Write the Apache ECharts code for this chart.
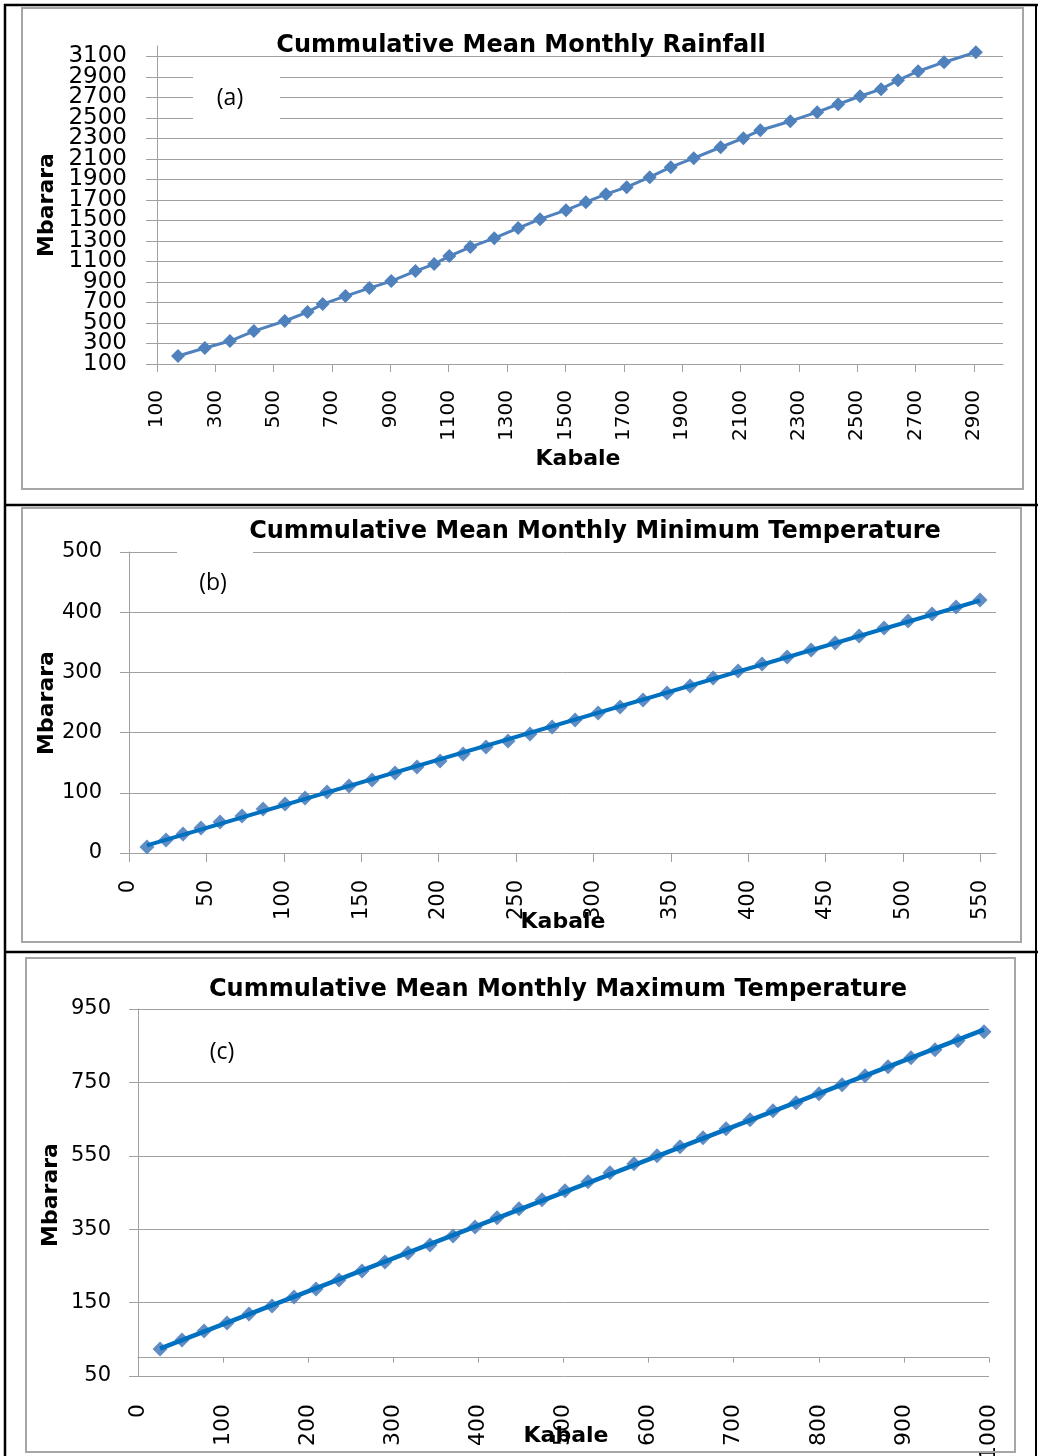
<!DOCTYPE html>
<html><head><meta charset="utf-8">
<script src="https://cdn.jsdelivr.net/npm/echarts@6/dist/echarts.min.js"></script>
<style>html,body{margin:0;padding:0;background:#fff}#c{width:1038px;height:1456px}</style>
</head><body><div id="c"></div>
<script>
// ---- (a) Cumulative mean monthly rainfall ----
const rainKabale  = [172,264,350,432,538,616,668,746,828,903,986,1050,1102,1174,1256,1338,1413,1502,1570,1639,1710,1789,1861,1940,2032,2110,2168,2271,2363,2435,2510,2582,2640,2709,2798,2907];
const rainMbarara = [178,256,324,421,519,606,684,762,840,908,1006,1074,1152,1240,1327,1425,1512,1600,1678,1756,1824,1921,2019,2106,2213,2301,2379,2467,2555,2632,2710,2779,2866,2954,3042,3139];
const rainXTicks = [100,300,500,700,900,1100,1300,1500,1700,1900,2100,2300,2500,2700,2900];
const rainYTicks = [100,300,500,700,900,1100,1300,1500,1700,1900,2100,2300,2500,2700,2900,3100];

// ---- (b) Cumulative mean monthly minimum temperature ----
const minKabale  = [11.6,23.9,34.9,46.5,58.8,73.0,86.6,100.8,113.7,127.9,142.1,157.0,171.8,186.0,200.9,215.8,230.6,244.8,259.0,273.3,288.1,303.0,317.2,332.0,347.5,362.4,377.3,393.4,408.9,425.1,440.6,456.1,471.6,487.7,503.2,518.7,534.2,549.7];
const minMbarara = [10.0,21.6,31.6,41.5,51.5,61.5,73.1,81.4,91.4,101.3,111.3,121.3,132.9,142.9,152.8,164.5,176.1,186.0,197.7,209.3,220.9,232.6,242.5,254.2,265.8,277.4,290.7,302.3,314.0,325.6,337.2,348.8,360.5,373.8,385.4,397.0,408.6,420.3];
const minXTicks = [0,50,100,150,200,250,300,350,400,450,500,550];
const minYTicks = [0,100,200,300,400,500];

// ---- (c) Cumulative mean monthly maximum temperature ----
const maxKabale  = [25.9,51.7,77.6,104.6,130.4,157.5,183.3,209.2,236.2,263.2,290.2,317.3,343.1,370.2,396.0,421.9,447.7,474.7,501.8,528.8,554.6,582.8,609.9,636.9,663.9,691.0,719.2,746.2,773.2,800.2,827.3,854.3,881.3,908.3,936.5,963.6,994.1];
const maxMbarara = [23.6,48.2,72.7,94.5,119.1,140.9,165.4,187.2,211.8,236.3,260.9,285.4,307.2,331.8,356.3,380.9,405.4,430.0,454.5,479.1,503.6,528.2,550.0,574.5,599.1,623.6,648.2,672.7,694.5,719.0,743.6,768.1,792.7,817.2,839.0,863.6,888.1];
const maxXTicks = [0,100,200,300,400,500,600,700,800,900,1000];
const maxYTicks = [-50,150,350,550,750,950];

const titles = ['Cummulative Mean Monthly Rainfall','Cummulative Mean Monthly Minimum Temperature','Cummulative Mean Monthly Maximum Temperature'];
const panelTags = ['(a)','(b)','(c)'];
const xName = 'Kabale', yName = 'Mbarara';

function pairs(xs, ys) { return xs.map((x, i) => [x, ys[i]]); }
function trend(xs, ys) {
  const n = xs.length;
  const mx = xs.reduce((a, b) => a + b, 0) / n, my = ys.reduce((a, b) => a + b, 0) / n;
  let sxy = 0, sxx = 0;
  for (let i = 0; i < n; i++) { sxy += (xs[i] - mx) * (ys[i] - my); sxx += (xs[i] - mx) ** 2; }
  const b = sxy / sxx, a = my - b * mx;
  const x0 = Math.min(...xs), x1 = Math.max(...xs);
  return [[x0, a + b * x0], [x1, a + b * x1]];
}

const NUM = 'DejaVu Sans';
const HEAD = '"Comic Sans MS","DejaVu Sans",sans-serif';
const GC = '#a0a0a0';
const plain = v => String(Math.abs(v));

function xAx(gi, min, max, ticks, fs, margin, tickLen) {
  return { gridIndex: gi, type: 'value', min: min, max: max,
    axisLine: { show: true, onZero: true, lineStyle: { color: GC, width: 1 } },
    axisTick: { show: true, inside: false, length: tickLen, customValues: ticks, lineStyle: { color: GC } },
    axisLabel: { customValues: ticks, rotate: 90, fontSize: fs, fontFamily: NUM, color: '#000', margin: margin,
      formatter: plain, hideOverlap: false, showMinLabel: true, showMaxLabel: true },
    splitLine: { show: false } };
}
function yAx(gi, min, max, ticks, labels, fs, margin, tickLen) {
  return { gridIndex: gi, type: 'value', min: min, max: max,
    axisLine: { show: true, lineStyle: { color: GC, width: 1 } },
    axisTick: { show: true, inside: false, length: tickLen, customValues: ticks, lineStyle: { color: GC } },
    axisLabel: { customValues: labels, fontSize: fs, fontFamily: NUM, color: '#000', margin: margin,
      formatter: plain, hideOverlap: false, showMinLabel: true, showMaxLabel: true },
    splitLine: { show: true, lineStyle: { color: GC, width: 1 } } };
}
// label-only companion axis (same scale) so densely packed labels are all kept
function yLabelsOnly(gi, min, max, labels, fs, margin) {
  return { gridIndex: gi, type: 'value', min: min, max: max, position: 'left', offset: 0,
    axisLine: { show: false }, axisTick: { show: false }, splitLine: { show: false },
    axisLabel: { customValues: labels, fontSize: fs, fontFamily: NUM, color: '#000', margin: margin,
      formatter: plain, hideOverlap: false, showMinLabel: true, showMaxLabel: true } };
}

function txt(x, y, text, size, opts) {
  return Object.assign({ type: 'text', x: x, y: y, z: 120,
    style: { text: text, fontSize: size, fontWeight: 'bold', fontFamily: HEAD, fill: '#000', align: 'center', verticalAlign: 'middle' } }, opts || {});
}
function line(x1, y1, x2, y2, w, c) {
  return { type: 'line', z: 110, shape: { x1: x1, y1: y1, x2: x2, y2: y2 }, style: { stroke: c, lineWidth: w } };
}
function frame(x, y, w, h) {
  return { type: 'rect', z: 105, shape: { x: x, y: y, width: w, height: h }, style: { fill: null, stroke: '#a6a6a6', lineWidth: 2 } };
}
function tagBox(x, y, w, h, cx, cy, t) {
  return [
    { type: 'rect', z: 115, shape: { x: x, y: y, width: w, height: h }, style: { fill: '#fff' } },
    { type: 'text', x: cx, y: cy, z: 120, style: { text: t, fontSize: 23, fontFamily: 'Open Sans', fill: '#000', align: 'center', verticalAlign: 'middle' } }
  ];
}

const rainYLabelsA = rainYTicks.filter((v, i) => i % 2 === 0);
const rainYLabelsB = rainYTicks.filter((v, i) => i % 2 === 1);

const chart = echarts.init(document.getElementById('c'), null, { renderer: 'canvas' });
chart.setOption({
  animation: false,
  backgroundColor: '#fff',
  grid: [
    { left: 157, top: 46, width: 846, height: 318, containLabel: false, outerBoundsMode: 'none' },
    { left: 129, top: 552, width: 867, height: 301, containLabel: false, outerBoundsMode: 'none' },
    { left: 138, top: 1009, width: 851, height: 367, containLabel: false, outerBoundsMode: 'none' }
  ],
  xAxis: [
    xAx(0, 100, 3000, rainXTicks, 20, 26, 8),
    xAx(1, 0, 560, minXTicks, 21, 27, 9),
    xAx(2, 0, 1000, maxXTicks, 22, 28, 5)
  ],
  yAxis: [
    yAx(0, 100, 3200, rainYTicks, rainYLabelsA, 23, 30, 11),
    yAx(1, 0, 500, minYTicks, minYTicks, 21, 27, 9),
    yAx(2, -50, 950, maxYTicks, maxYTicks, 21, 27, 9),
    yLabelsOnly(0, 100, 3200, rainYLabelsB, 23, 30)
  ],
  series: [
    { type: 'line', xAxisIndex: 0, yAxisIndex: 0, data: pairs(rainKabale, rainMbarara),
      symbol: 'diamond', symbolSize: 14, showAllSymbol: true,
      itemStyle: { color: '#4f81bd' }, lineStyle: { color: '#4f81bd', width: 3 } },
    { type: 'scatter', xAxisIndex: 1, yAxisIndex: 1, data: pairs(minKabale, minMbarara),
      symbol: 'diamond', symbolSize: 15, itemStyle: { color: '#4f81bd', opacity: 0.9 } },
    { type: 'line', xAxisIndex: 1, yAxisIndex: 1, data: trend(minKabale, minMbarara), z: 5,
      symbol: 'none', lineStyle: { color: '#0070c0', width: 4 } },
    { type: 'scatter', xAxisIndex: 2, yAxisIndex: 2, data: pairs(maxKabale, maxMbarara),
      symbol: 'diamond', symbolSize: 15, itemStyle: { color: '#4f81bd', opacity: 0.9 } },
    { type: 'line', xAxisIndex: 2, yAxisIndex: 2, data: trend(maxKabale, maxMbarara), z: 5,
      symbol: 'none', lineStyle: { color: '#0070c0', width: 4.5 } }
  ],
  graphic: [
    line(4, 5, 1038, 5, 2.5, '#000'),
    line(5, 4, 5, 1456, 2.5, '#000'),
    line(1036, 4, 1036, 1456, 2, '#000'),
    line(4, 505, 1038, 505, 2.5, '#000'),
    line(4, 952, 1038, 952, 2.5, '#000'),
    frame(22, 8, 1001, 481),
    frame(22, 508, 999, 434),
    frame(26, 958, 989, 494),
    txt(521, 46, titles[0], 24),
    txt(595, 532, titles[1], 24),
    txt(558, 990, titles[2], 24),
    txt(578, 459, xName, 22),
    txt(563, 922, xName, 22),
    txt(566, 1436, xName, 22),
    txt(47, 205, yName, 22, { rotation: Math.PI / 2 }),
    txt(47, 703, yName, 22, { rotation: Math.PI / 2 }),
    txt(51, 1195, yName, 22, { rotation: Math.PI / 2 }),
    ...tagBox(193, 64, 87, 64, 230, 98, panelTags[0]),
    ...tagBox(177, 548, 76, 58, 213, 583, panelTags[1]),
    ...tagBox(185, 1030, 70, 46, 222, 1052, panelTags[2])
  ]
});
</script></body></html>
